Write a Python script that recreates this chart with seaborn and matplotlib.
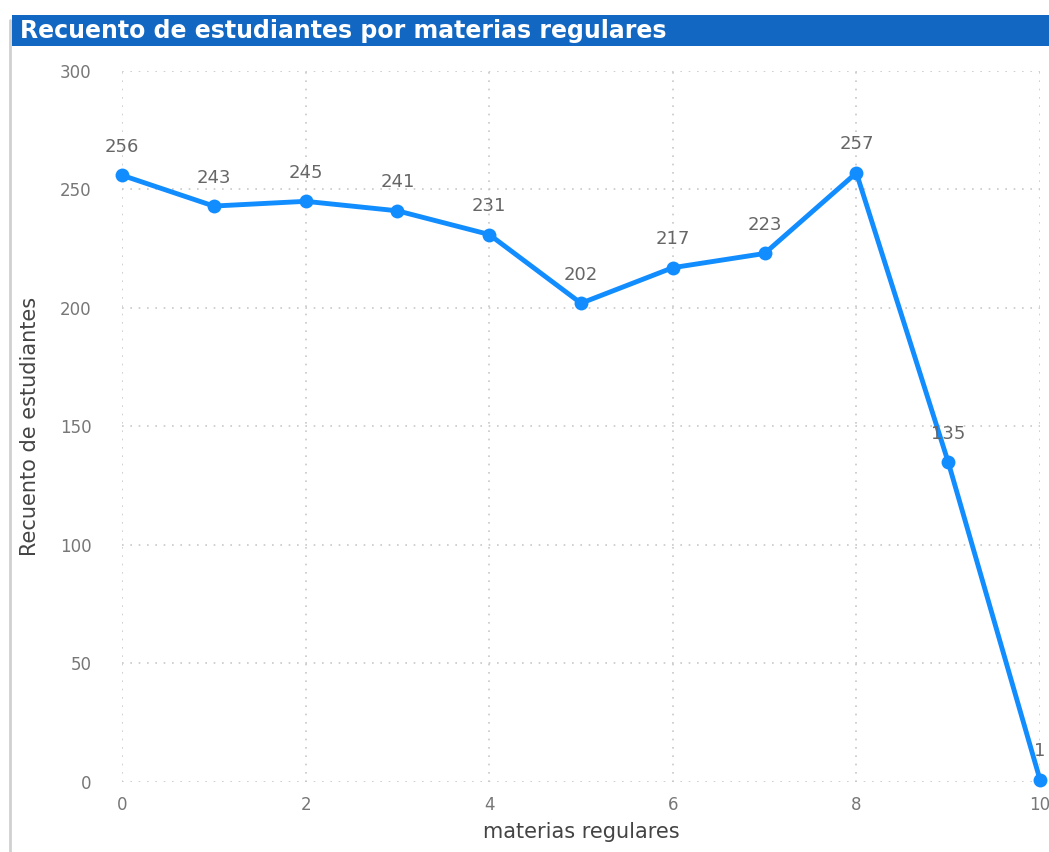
import matplotlib
matplotlib.use('Agg')
import matplotlib.pyplot as plt
import seaborn as sns
import pandas as pd
from matplotlib.patches import Rectangle
from matplotlib.lines import Line2D

materias = [0, 1, 2, 3, 4, 5, 6, 7, 8, 9, 10]
estudiantes = [256, 243, 245, 241, 231, 202, 217, 223, 257, 135, 1]

df = pd.DataFrame({'materias regulares': materias, 'Recuento de estudiantes': estudiantes})

sns.set_style('white')
plt.rcParams['font.family'] = ['DejaVu Sans']

fig = plt.figure(figsize=(10.49, 8.52), dpi=100)
ax = fig.add_axes([0.1163, 0.0822, 0.8751, 0.8345])

sns.lineplot(data=df, x='materias regulares', y='Recuento de estudiantes', ax=ax,
             color='#118DFF', linewidth=3.5, marker='o', markersize=10,
             markeredgewidth=0, clip_on=False)

for x, y in zip(materias, estudiantes):
    ax.annotate(str(y), (x, y), xytext=(0, 14), textcoords='offset points',
                ha='center', va='bottom', fontsize=13, color='#666666')

ax.set_xlim(0, 10)
ax.set_ylim(0, 300)
ax.set_xticks(range(0, 11, 2))
ax.set_yticks(range(0, 301, 50))
ax.grid(True, linestyle=(0, (1, 4)), color='#c8c8c8', linewidth=1.2)
for s in ax.spines.values():
    s.set_visible(False)
ax.tick_params(axis='both', length=0, labelsize=12, labelcolor='#777777')
ax.tick_params(axis='y', pad=22)
ax.tick_params(axis='x', pad=10)
ax.set_xlabel('materias regulares', fontsize=15, color='#444444', labelpad=6)
ax.set_ylabel('Recuento de estudiantes', fontsize=15, color='#444444', labelpad=14)

# title bar
fig.patches.append(Rectangle((12 / 1049, 1 - 46 / 852), 1, 31 / 852,
                             transform=fig.transFigure, facecolor='#1167C1',
                             edgecolor='none', zorder=0))
fig.text(20 / 1049, 1 - 31 / 852, 'Recuento de estudiantes por materias regulares',
         fontsize=17, fontweight='bold', color='white', va='center', ha='left')
fig.lines.append(Line2D([10 / 1049, 10 / 1049], [0, 1 - 20 / 852],
                        transform=fig.transFigure, color='#d0d0d0', linewidth=2))

fig.savefig('out.png', dpi=100)
